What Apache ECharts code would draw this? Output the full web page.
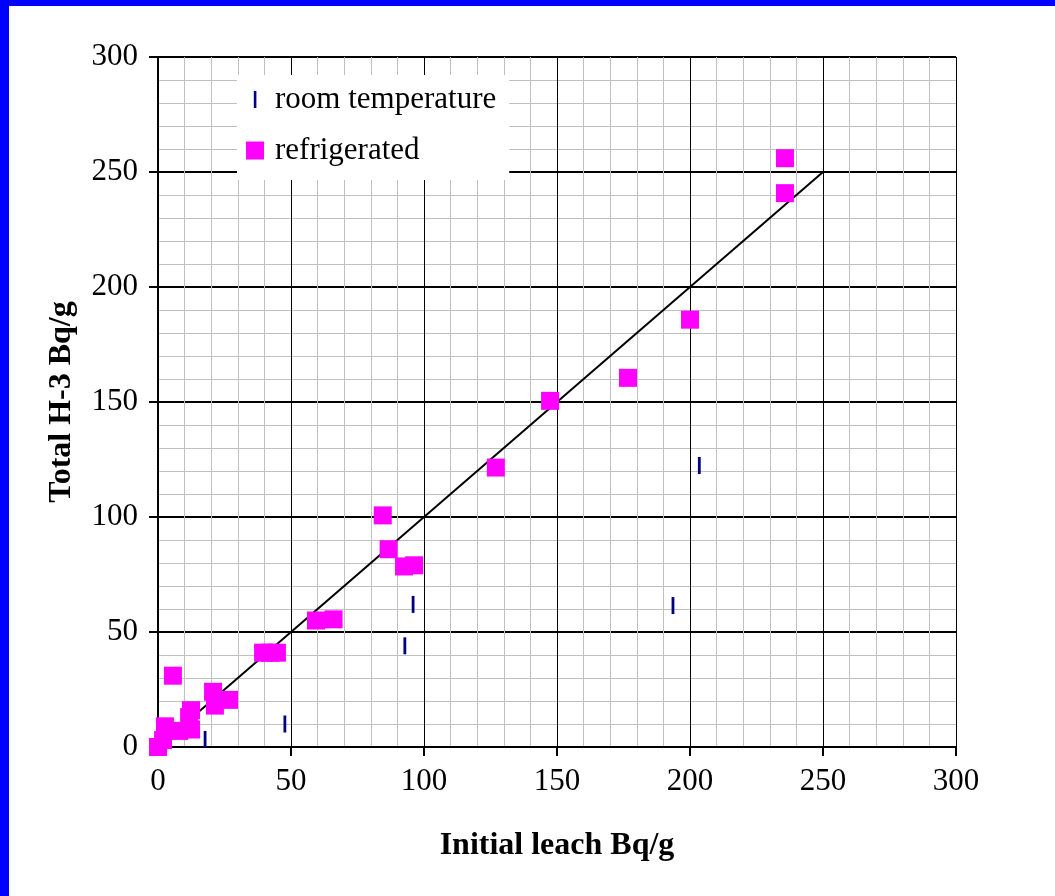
<!DOCTYPE html>
<html>
<head>
<meta charset="utf-8">
<script src="https://cdn.jsdelivr.net/npm/echarts@6/dist/echarts.min.js"></script>
<style>
html,body{margin:0;padding:0;background:#fff;}
#chart{position:absolute;left:0;top:0;width:1055px;height:896px;}
</style>
</head>
<body>
<div id="chart"></div>
<script>
// Data
const seriesNames = ['room temperature', 'refrigerated'];
const roomTemperature = [
  [17.7, 3.3], [47.7, 10], [92.8, 44], [95.9, 62], [193.6, 61.5], [203.5, 122.4]
];
const refrigerated = [
  [0, 0], [1.9, 3], [2.6, 9], [5.6, 31], [8, 7], [11.7, 13], [12.4, 16], [12.4, 7.6],
  [20.7, 24], [21.4, 18], [26.7, 20.5], [39.5, 41], [42, 41], [44.7, 41],
  [59.4, 55], [66, 55.5], [84.5, 100.7], [86.7, 86], [92.5, 78.5], [96.3, 79],
  [127, 121.5], [147.4, 150.5], [176.7, 160.5], [200, 185.8], [235.7, 240.8], [235.7, 256]
];
const identityLine = [[0, 0], [250, 250]];
const axisMin = 0, axisMax = 300, axisStep = 50;
const xTitle = 'Initial leach Bq/g';
const yTitle = 'Total H-3 Bq/g';

const FONT = '"Liberation Serif", "Times New Roman", serif';
const chart = echarts.init(document.getElementById('chart'), null, {renderer: 'canvas'});

const axisCommon = {
  type: 'value', min: axisMin, max: axisMax, interval: axisStep,
  axisLine: {show: true, onZero: false, lineStyle: {color: '#000', width: 2}},
  axisTick: {show: true, length: 9, lineStyle: {color: '#000', width: 2}},
  minorTick: {show: false, splitNumber: 5},
  minorSplitLine: {show: true, lineStyle: {color: '#c0c0c0', width: 1}},
  axisLabel: {color: '#000', fontFamily: FONT, fontSize: 31},
  nameLocation: 'middle',
  nameTextStyle: {color: '#000', fontFamily: FONT, fontSize: 32, fontWeight: 'bold'}
};

chart.setOption({
  animation: false,
  backgroundColor: '#fff',
  grid: {left: 158, right: 99, top: 57, bottom: 149, containLabel: false},
  xAxis: Object.assign({}, axisCommon, {
    name: xTitle, nameGap: 83,
    axisLabel: Object.assign({}, axisCommon.axisLabel, {margin: 19}),
    splitLine: {show: true, lineStyle: {color: '#000', width: 1}}
  }),
  yAxis: Object.assign({}, axisCommon, {
    name: yTitle, nameGap: 80,
    axisLabel: Object.assign({}, axisCommon.axisLabel, {margin: 20}),
    splitLine: {show: true, lineStyle: {color: '#000', width: 2}}
  }),
  legend: {
    orient: 'vertical', left: 237, top: 75,
    backgroundColor: '#fff', borderWidth: 0,
    padding: [9, 13, 14, 9],
    itemWidth: 18, itemHeight: 18, itemGap: 20,
    textStyle: {color: '#000', fontFamily: FONT, fontSize: 31, lineHeight: 30, padding: [0, 0, 0, 6]},
    data: [
      {name: seriesNames[0], icon: 'path://M0,0M18,18M7.8,0.5h2.6v17h-2.6z', itemStyle: {color: '#000080', opacity: 1}},
      {name: seriesNames[1], icon: 'rect', itemStyle: {color: '#ff00ff', opacity: 1}}
    ]
  },
  graphic: [
    {type: 'rect', left: 0, top: 0, shape: {width: 1055, height: 6}, style: {fill: '#0000ff'}, z: 100},
    {type: 'rect', left: 0, top: 0, shape: {width: 9, height: 896}, style: {fill: '#0000ff'}, z: 100}
  ],
  series: [
    {
      name: 'trend', type: 'line', data: identityLine, symbol: 'none', silent: true,
      lineStyle: {color: '#000', width: 2}, z: 2
    },
    {
      name: seriesNames[0], type: 'scatter', data: roomTemperature,
      symbol: 'rect', symbolSize: [2.8, 17], itemStyle: {color: '#000080', opacity: 1}, z: 3
    },
    {
      name: seriesNames[1], type: 'scatter', data: refrigerated,
      symbol: 'rect', symbolSize: 18, itemStyle: {color: '#ff00ff', opacity: 1}, z: 4
    }
  ]
});
</script>
</body>
</html>
